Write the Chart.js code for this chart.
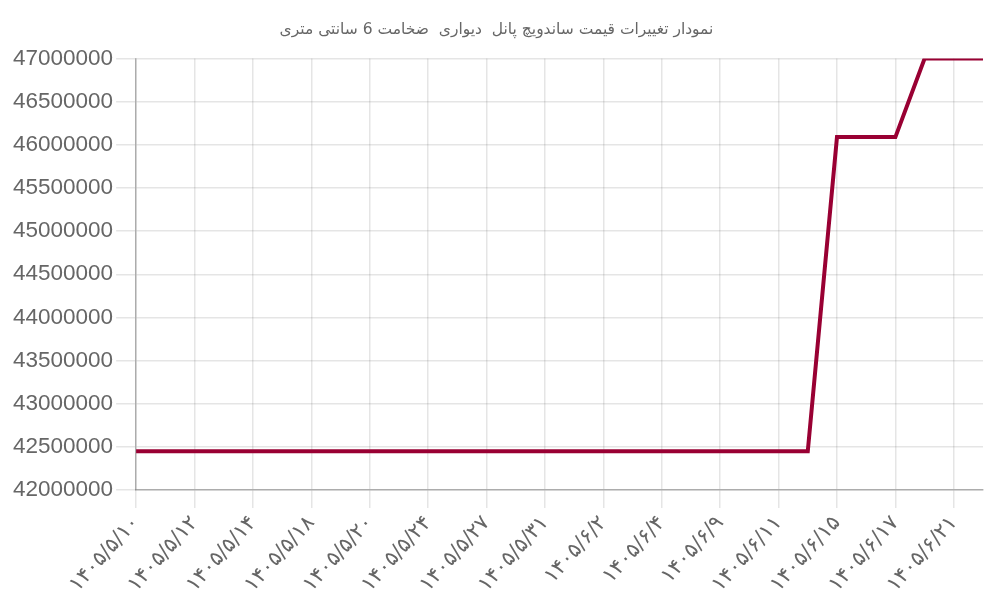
<!DOCTYPE html>
<html lang="fa">
<head>
  <meta charset="UTF-8">
  <title>نمودار تغییرات قیمت</title>
  <script src="https://cdn.jsdelivr.net/npm/chart.js"></script>
  <style>
    body {
      margin: 0;
      background-color: #fff;
    }
    #wrap {
      width: 1000px;
      height: 600px;
    }
  </style>
</head>
<body>
<div id="wrap">
  <canvas id="priceChart" width="1000" height="600"></canvas>
</div>

<script>
    const chartTitle = 'نمودار تغییرات قیمت ساندویچ پانل  دیواری  ضخامت 6 سانتی متری';

    // dates (every other one is shown on the axis)
    const dates = [
        '۱۴۰۵/۵/۱۰', '۱۴۰۵/۵/۱۱', '۱۴۰۵/۵/۱۲', '۱۴۰۵/۵/۱۳', '۱۴۰۵/۵/۱۴',
        '۱۴۰۵/۵/۱۷', '۱۴۰۵/۵/۱۸', '۱۴۰۵/۵/۱۹', '۱۴۰۵/۵/۲۰', '۱۴۰۵/۵/۲۱',
        '۱۴۰۵/۵/۲۴', '۱۴۰۵/۵/۲۶', '۱۴۰۵/۵/۲۷', '۱۴۰۵/۵/۲۸', '۱۴۰۵/۵/۳۱',
        '۱۴۰۵/۶/۱', '۱۴۰۵/۶/۲', '۱۴۰۵/۶/۳', '۱۴۰۵/۶/۴', '۱۴۰۵/۶/۸',
        '۱۴۰۵/۶/۹', '۱۴۰۵/۶/۱۰', '۱۴۰۵/۶/۱۱', '۱۴۰۵/۶/۱۴', '۱۴۰۵/۶/۱۵',
        '۱۴۰۵/۶/۱۶', '۱۴۰۵/۶/۱۷', '۱۴۰۵/۶/۱۸', '۱۴۰۵/۶/۲۱', '۱۴۰۵/۶/۲۲'
    ];

    const prices = [
        42450000, 42450000, 42450000, 42450000, 42450000,
        42450000, 42450000, 42450000, 42450000, 42450000,
        42450000, 42450000, 42450000, 42450000, 42450000,
        42450000, 42450000, 42450000, 42450000, 42450000,
        42450000, 42450000, 42450000, 42450000, 46090000,
        46090000, 46090000, 47000000, 47000000, 47000000
    ];

    const yMin = 42000000;
    const yMax = 47000000;
    const yStep = 500000;

    const ctx = document.getElementById('priceChart').getContext('2d');
    new Chart(ctx, {
        type: 'line',
        data: {
            labels: dates,
            datasets: [{
                label: 'قیمت',
                data: prices,
                borderColor: '#990033',
                backgroundColor: '#990033',
                borderWidth: 4,
                pointRadius: 0,
                tension: 0,
                fill: false
            }]
        },
        options: {
            responsive: false,
            animation: false,
            layout: {
                padding: { left: 10, right: 17, top: 4, bottom: 0 }
            },
            plugins: {
                legend: { display: false },
                title: {
                    display: true,
                    text: chartTitle,
                    color: '#666',
                    font: { family: '"DejaVu Sans", sans-serif', size: 15.5, weight: 'normal' },
                    padding: { top: 17, bottom: 19 }
                }
            },
            scales: {
                x: {
                    grid: {
                        color: 'rgba(0,0,0,0.1)',
                        lineWidth: 1.5,
                        tickLength: 18
                    },
                    border: { color: 'rgba(0,0,0,0.25)', width: 1.5 },
                    ticks: {
                        autoSkip: false,
                        maxRotation: 48,
                        minRotation: 48,
                        color: '#666',
                        font: { family: '"DejaVu Sans", sans-serif', size: 21 },
                        callback: function (value, index) {
                            return index % 2 === 0 ? dates[index] : null;
                        }
                    }
                },
                y: {
                    min: yMin,
                    max: yMax,
                    grid: {
                        color: 'rgba(0,0,0,0.1)',
                        lineWidth: 1.5,
                        tickLength: 20
                    },
                    border: { color: 'rgba(0,0,0,0.25)', width: 1.5 },
                    ticks: {
                        stepSize: yStep,
                        color: '#666',
                        padding: 3,
                        font: { family: '"Liberation Sans", Arial, sans-serif', size: 22.5 },
                        callback: function (value) {
                            return String(value);
                        }
                    }
                }
            }
        }
    });
</script>
</body>
</html>
